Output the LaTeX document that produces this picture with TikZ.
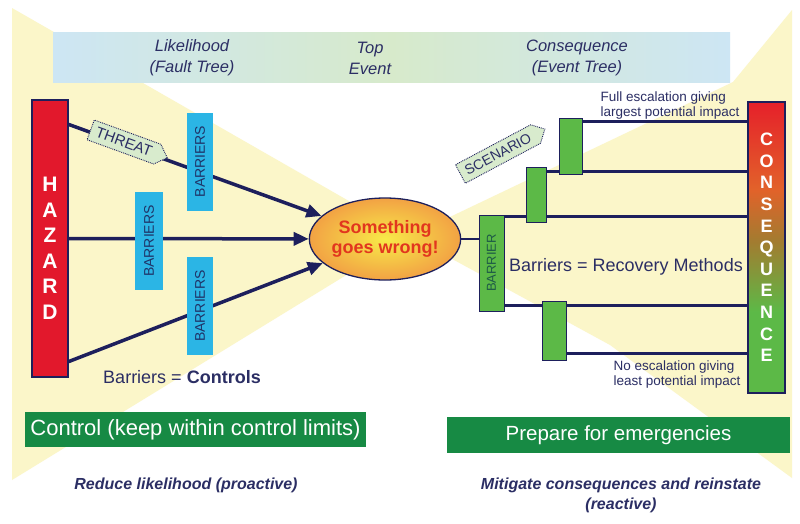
\documentclass[tikz,border=0pt]{standalone}
\usepackage{fontspec}
\setmainfont{Liberation Sans}
\usepackage{graphicx}
\usetikzlibrary{arrows.meta}
\usetikzlibrary{shapes.geometric,shapes.symbols}

\definecolor{navyline}{HTML}{1D1F5C}
\definecolor{labelnavy}{HTML}{2B2E64}
\definecolor{hazardred}{HTML}{E2182C}
\definecolor{barrierblue}{HTML}{2BB5E5}
\definecolor{barriertext}{HTML}{1F3468}
\definecolor{escgreen}{HTML}{5CB947}
\definecolor{escdark}{HTML}{1E5A46}
\definecolor{bandgreen}{HTML}{178A44}
\definecolor{paleyellow}{HTML}{FBF6C9}
\definecolor{tagfill}{HTML}{D8EBCD}
\definecolor{headblue}{HTML}{CDE6F4}
\definecolor{headgreen}{HTML}{D7EACB}
\definecolor{wrongred}{HTML}{E2361E}
\definecolor{wrongyellow}{HTML}{F8EA48}
\definecolor{wrongorange}{HTML}{F2A244}
\definecolor{consred}{HTML}{E5202A}
\definecolor{consorange}{HTML}{E2622A}
\definecolor{consolive}{HTML}{A27C30}
\definecolor{consgreen}{HTML}{5CB947}

\pgfdeclareverticalshading{consshade}{100bp}{color(0bp)=(consgreen); color(25bp)=(consgreen); color(39bp)=(consgreen); color(51bp)=(consolive); color(60bp)=(consorange); color(75bp)=(consred); color(100bp)=(consred)}

\pgfdeclarelayer{back}
\pgfdeclarelayer{links}
\pgfsetlayers{back,links,main}

\begin{document}
\begin{tikzpicture}[x=1pt,y=-1pt,
		arrowline/.style={navyline,line width=3.5pt,-{Triangle[length=15pt,width=13pt]}},
		branch/.style={navyline,line width=3.2pt},
		barriers/.style={fill=barrierblue,minimum width=26pt,minimum height=98pt,inner sep=0pt,text=barriertext,font=\fontsize{14}{14}\selectfont},
		escbox/.style={fill=escgreen,draw=navyline,line width=1pt,inner sep=0pt},
		tag/.style={signal,signal to=east,draw=navyline,densely dotted,line width=0.9pt,fill=tagfill,text=labelnavy,inner xsep=6pt,inner ysep=3pt,minimum height=21pt},
		band/.style={fill=bandgreen,text=white,inner sep=0pt,font=\fontsize{22}{22}\selectfont},
		headtext/.style={text=labelnavy,align=center,font=\fontsize{16.5}{21}\itshape\selectfont},
		aim/.style={text=labelnavy,align=center,font=\fontsize{16}{20}\bfseries\itshape\selectfont},
		remark/.style={text=labelnavy,align=left,anchor=west,font=\fontsize{13.5}{15}\selectfont}]
		\useasboundingbox (0,0) rectangle (800,523);

		% bow tie background
		\begin{pgfonlayer}{back}
		\fill[white] (0,0) rectangle (800,523);
		\fill[paleyellow] (12,8) -- (410,236) -- (12,480) -- cycle;
		\fill[paleyellow] (410,236) -- (733,82) -- (792,10) -- (792,478) -- (610,345) -- cycle;
		\end{pgfonlayer}

		\node[minimum width=677pt,minimum height=50pt,inner sep=0pt,left color=headblue,right color=headblue,middle color=headgreen] (header) at (391.5,57) {};
		\node[headtext] (likelihood) at (192,58) {Likelihood\\(Fault Tree)};
		\node[headtext] (topevent) at (370,58) {Top\\Event};
		\node[headtext] (eventtree) at (577,58) {Consequence\\(Event Tree)};

		% left side
		\node[fill=hazardred,draw=navyline,line width=1.2pt,minimum width=36pt,minimum height=277pt,inner sep=0pt] (hazard) at (50,238.5) {};
		\node[text=white,align=center,font=\fontsize{21}{25.5}\bfseries\selectfont] (hazardtext) at (50,248.5) {H\\A\\Z\\A\\R\\D};
		\node[ellipse,draw=navyline,line width=1.3pt,inner color=wrongyellow,outer color=wrongorange,minimum width=124pt,minimum height=82pt,inner sep=0pt,text=wrongred,align=center,font=\fontsize{18}{20}\bfseries\selectfont] (event) at (385,239) {Something\\goes wrong!};
		\node[barriers] (upperbarriers) at (200,161.5) {\rotatebox{90}{BARRIERS}};
		\node[barriers,minimum width=28pt] (middlebarriers) at (149,241) {\rotatebox{90}{BARRIERS}};
		\node[barriers] (lowerbarriers) at (200,306) {\rotatebox{90}{BARRIERS}};
		\node[tag,rotate=-20,font=\fontsize{15}{15}\selectfont] (threat) at (124,142) {THREAT};
		\node[text=labelnavy,font=\fontsize{18}{18}\selectfont] (controls) at (182,377) {Barriers = \textbf{Controls}};

		% right side
		\node[tag,rotate=28,font=\fontsize{14}{14}\selectfont] (scenario) at (498,154) {SCENARIO};
		\node[escbox,minimum width=25pt,minimum height=96pt,text=escdark,font=\fontsize{13}{13}\selectfont] (barrier) at (491.5,263) {\rotatebox{90}{BARRIER}};
		\node[escbox,minimum width=20pt,minimum height=55pt] (firstesc) at (536,194.5) {};
		\node[escbox,minimum width=23pt,minimum height=56pt] (secondesc) at (570.5,146) {};
		\node[escbox,minimum width=24pt,minimum height=59pt] (thirdesc) at (554,330.5) {};
		\node[draw=navyline,line width=1.2pt,shade,shading=consshade,minimum width=37pt,minimum height=291pt,inner sep=0pt,text=white,align=center,font=\fontsize{18}{21.6}\bfseries\selectfont] (consequence) at (766.5,247.5) {C\\O\\N\\S\\E\\Q\\U\\E\\N\\C\\E};
		\node[remark] (fullesc) at (597,105.5) {Full escalation giving\\largest potential impact};
		\node[remark] (noesc) at (610,374.5) {No escalation giving\\least potential impact};
		\node[text=labelnavy,font=\fontsize{18}{18}\selectfont] (recovery) at (626,267) {Barriers = Recovery Methods};

		% bottom
		\node[band,minimum width=341pt,minimum height=35pt] (controlband) at (195.5,429.5) {Control (keep within control limits)};
		\node[band,minimum width=343pt,minimum height=36pt,font=\fontsize{20.5}{20.5}\selectfont] (prepareband) at (618.5,435) {Prepare for emergencies};
		\node[aim] (proactive) at (186,485) {Reduce likelihood (proactive)};
		\node[aim] (reactive) at (621,495) {Mitigate consequences and reinstate\\(reactive)};

		\begin{pgfonlayer}{links}
		\draw[arrowline] ([yshift=-25pt]hazard.north east) -- (event);
		\draw[arrowline] (hazard.east) -- (event);
		\draw[arrowline] ([yshift=16pt]hazard.south east) -- (event);
		\draw[navyline,line width=1.5pt] (event.east) -- (event.east -| barrier.west);
		\draw[branch] ([yshift=-4pt]secondesc.north east) -- ([yshift=-4pt]secondesc.north east -| consequence.west);
		\draw[branch] ([yshift=-5pt]firstesc.north east) -- ([yshift=-5pt]firstesc.north east -| consequence.west);
		\draw[branch] ([yshift=-2pt]barrier.north east) -- ([yshift=-2pt]barrier.north east -| consequence.west);
		\draw[branch] ([yshift=6pt]barrier.south east) -- ([yshift=6pt]barrier.south east -| consequence.west);
		\draw[branch] ([yshift=7pt]thirdesc.south east) -- ([yshift=7pt]thirdesc.south east -| consequence.west);
		\end{pgfonlayer}

		\end{tikzpicture}
\end{document}
